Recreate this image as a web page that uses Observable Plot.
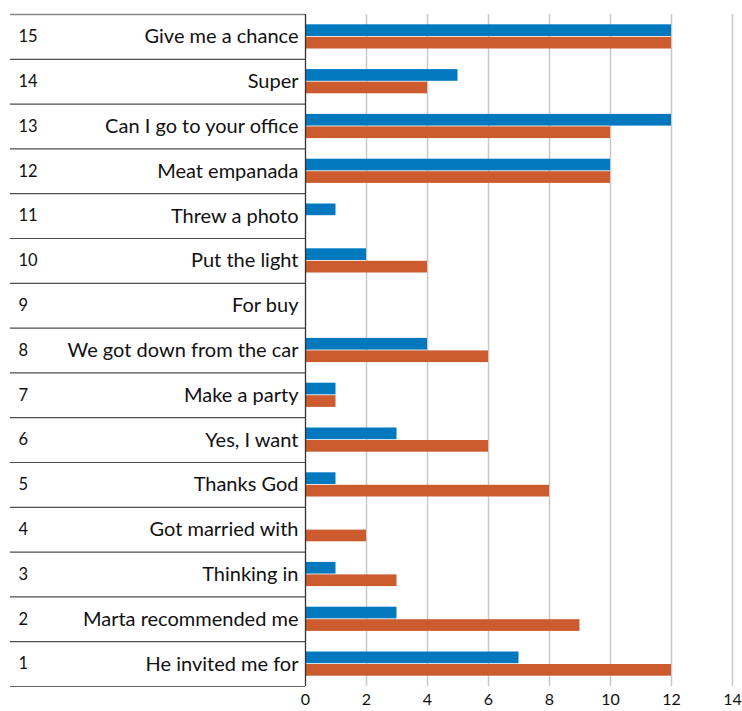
<!DOCTYPE html>
<html>
<head>
<meta charset="utf-8">
<script src="https://cdn.jsdelivr.net/npm/d3@7"></script>
<script src="https://cdn.jsdelivr.net/npm/@observablehq/plot@0.6"></script>
<style>
  html, body { margin: 0; padding: 0; background: #fff; }
  #chart { width: 742px; height: 711px; }
</style>
</head>
<body>
<div id="chart"></div>
<script>
// Phrases, numbered 1–15 from the bottom row up
const rowNumbers = [1, 2, 3, 4, 5, 6, 7, 8, 9, 10, 11, 12, 13, 14, 15];
const phrases = [
  "He invited me for",
  "Marta recommended me",
  "Thinking in",
  "Got married with",
  "Thanks God",
  "Yes, I want",
  "Make a party",
  "We got down from the car",
  "For buy",
  "Put the light",
  "Threw a photo",
  "Meat empanada",
  "Can I go to your office",
  "Super",
  "Give me a chance"
];
// Two series of counts per phrase (blue upper bar, orange lower bar)
const blueValues   = [7, 3, 1, 0, 1, 3, 1, 4, 0, 2, 1, 10, 12, 5, 12];
const orangeValues = [12, 9, 3, 2, 8, 6, 1, 6, 0, 4, 0, 10, 10, 4, 12];
const xTicks = [0, 2, 4, 6, 8, 10, 12, 14];

const rows = rowNumbers.map((n, i) => ({
  num: n,
  phrase: phrases[i],
  blue: blueValues[i],
  orange: orangeValues[i]
}));

// Top row first
const yDomain = rows.map(d => d.phrase).reverse();
const topPhrase = yDomain[0];
const bottomPhrase = yDomain[yDomain.length - 1];

const marginTop = 14, marginBottom = 25, height = 711;
const band = (height - marginTop - marginBottom) / yDomain.length;
const half = band / 2;

const BLUE = "#0279bf";
const ORANGE = "#cc5c2e";
const FONT = "Lato, 'Open Sans', sans-serif";

const chart = Plot.plot({
  width: 742,
  height,
  marginTop,
  marginBottom,
  marginLeft: 305,
  marginRight: 10,
  style: { fontFamily: FONT, background: "#fff", color: "#111" },
  x: { domain: [0, 14], axis: null },
  y: { domain: yDomain, padding: 0, round: false, axis: null },
  marks: [
    // vertical grid
    Plot.gridX(xTicks.filter(t => t > 0), { stroke: "#c8c8c8", strokeOpacity: 1, strokeWidth: 1.5 }),
    // x tick labels
    Plot.axisX(xTicks, { anchor: "bottom", tickSize: 0, tickPadding: 7, fontSize: 16, label: null, tickFormat: d => String(d) }),
    // row separators of the label table
    Plot.axisY(yDomain.slice(1), { anchor: "left", tickSize: 295, tickFormat: () => "", label: null, dy: -half, stroke: "#4d4d4d", strokeWidth: 1.2 }),
    Plot.axisY([topPhrase], { anchor: "left", tickSize: 295, tickFormat: () => "", label: null, dy: -half, stroke: "#8a8a8a", strokeWidth: 1.5 }),
    Plot.axisY([bottomPhrase], { anchor: "left", tickSize: 295, tickFormat: () => "", label: null, dy: half, stroke: "#666", strokeWidth: 1.2 }),
    // bars
    Plot.barX(rows, { y: "phrase", x: "blue", fill: BLUE, insetTop: 10.3, insetBottom: half + 0.4 }),
    Plot.barX(rows, { y: "phrase", x: "orange", fill: ORANGE, insetTop: half + 0.4, insetBottom: 10.3 }),
    // table border at zero
    Plot.ruleX([0], { stroke: "#333", strokeWidth: 1.3 }),
    // row labels
    Plot.text(rows, { y: "phrase", text: "phrase", frameAnchor: "left", textAnchor: "end", dx: -7, fontSize: 20, fill: "#111" }),
    Plot.text(rows, { y: "phrase", text: d => String(d.num), frameAnchor: "left", textAnchor: "start", dx: -287, fontSize: 16.5, fill: "#111" })
  ]
});

document.getElementById("chart").appendChild(chart);
</script>
</body>
</html>
